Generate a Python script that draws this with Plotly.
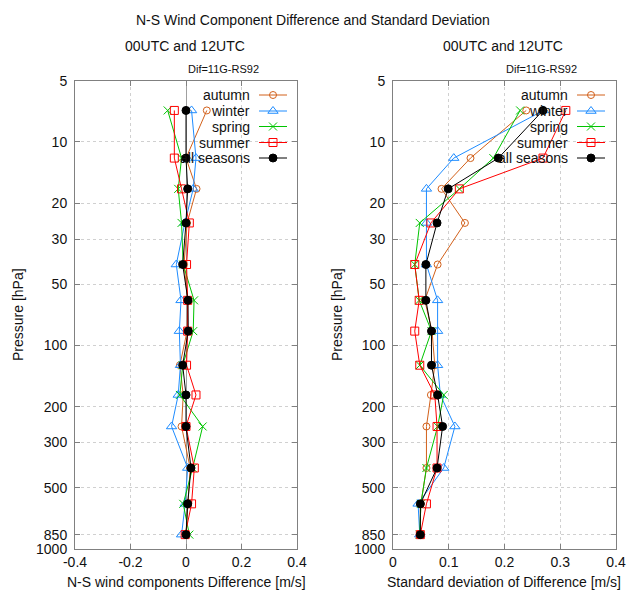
import plotly.graph_objects as go

# ---------------- data ----------------
levels = [7, 12, 17, 25, 40, 60, 85, 125, 175, 250, 400, 600, 850]
seasons = ["autumn", "winter", "spring", "summer", "all seasons"]

dif_autumn = [0.075, 0.0, 0.038, 0.004, -0.007, 0.006, 0.004, -0.022, -0.01, -0.016, 0.015, 0.008, 0.0]
dif_winter = [0.02, 0.036, 0.026, -0.004, -0.035, -0.018, -0.024, -0.02, -0.028, -0.052, 0.006, -0.003, -0.016]
dif_spring = [-0.066, -0.016, -0.028, -0.016, -0.01, 0.029, 0.026, -0.012, -0.022, 0.06, 0.024, -0.01, 0.012]
dif_summer = [-0.042, -0.042, -0.016, 0.012, 0.002, 0.006, 0.006, 0.002, 0.036, 0.0, 0.03, 0.02, -0.003]
dif_all = [0.0, 0.0, 0.006, 0.0, -0.012, 0.007, 0.008, -0.012, 0.0, 0.0, 0.018, 0.006, 0.0]

std_autumn = [0.239, 0.139, 0.087, 0.129, 0.08, 0.057, 0.07, 0.075, 0.068, 0.06, 0.06, 0.05, 0.048]
std_winter = [0.27, 0.109, 0.06, 0.06, 0.06, 0.08, 0.08, 0.08, 0.085, 0.111, 0.091, 0.045, 0.048]
std_spring = [0.228, 0.18, 0.119, 0.048, 0.039, 0.047, 0.069, 0.048, 0.091, 0.08, 0.06, 0.05, 0.048]
std_summer = [0.31, 0.269, 0.119, 0.068, 0.039, 0.047, 0.039, 0.048, 0.075, 0.079, 0.079, 0.06, 0.049]
std_all = [0.269, 0.189, 0.099, 0.079, 0.059, 0.059, 0.069, 0.069, 0.08, 0.089, 0.079, 0.049, 0.049]

p_ticks = [5, 10, 20, 30, 50, 100, 200, 300, 500, 850, 1000]
dif_ticks = [-0.4, -0.2, 0, 0.2, 0.4]
dif_ticktext = ["-0.4", "-0.2", "0", "0.2", "0.4"]
std_ticks = [0, 0.1, 0.2, 0.3, 0.4]
std_ticktext = ["0", "0.1", "0.2", "0.3", "0.4"]

# ---------------- styles ----------------
W, H = 627, 590
FONT = "Liberation Sans, Arial, sans-serif"
colors = ["#d2601a", "#1e8cff", "#00c400", "#ff0000", "#000000"]
symbols = ["circle-open", "triangle-up-open", "x-thin-open", "square-open", "circle"]
msizes = [7, 9, 8, 8, 8]

def px_x(v):
    return v / W

def px_y(v):
    return 1 - v / H

left_dom = [px_x(75), px_x(297)]
right_dom = [px_x(393), px_x(616)]
y_dom = [px_y(549), px_y(80.7)]

fig = go.Figure()

dif_series = [dif_autumn, dif_winter, dif_spring, dif_summer, dif_all]
std_series = [std_autumn, std_winter, std_spring, std_summer, std_all]

def marker(i):
    return dict(symbol=symbols[i], size=msizes[i], color=colors[i],
                line=dict(color=colors[i], width=1))

for i, name in enumerate(seasons):
    fig.add_trace(go.Scatter(x=dif_series[i], y=levels, mode="lines+markers", name=name,
                             line=dict(color=colors[i], width=1), marker=marker(i),
                             xaxis="x", yaxis="y", showlegend=False, cliponaxis=False))
for i, name in enumerate(seasons):
    fig.add_trace(go.Scatter(x=std_series[i], y=levels, mode="lines+markers", name=name,
                             line=dict(color=colors[i], width=1), marker=marker(i),
                             xaxis="x2", yaxis="y2", showlegend=False, cliponaxis=False))

# ------------- custom gnuplot-like keys (text left, sample right) -------------
annotations = []
key_rows = [95, 111, 126.5, 142.5, 158]
for text_end, line_x0, line_x1 in [(252, 259, 287), (570, 577, 605)]:
    for i, name in enumerate(seasons):
        yy = key_rows[i]
        annotations.append(dict(x=px_x(text_end), y=px_y(yy), xref="paper", yref="paper",
                                text=name, showarrow=False, xanchor="right", yanchor="middle",
                                font=dict(family=FONT, size=14, color="#111")))
        fig.add_trace(go.Scatter(x=[line_x0, line_x1], y=[yy, yy], mode="lines",
                                 line=dict(color=colors[i], width=1), xaxis="x3", yaxis="y3",
                                 showlegend=False, hoverinfo="skip"))
        fig.add_trace(go.Scatter(x=[(line_x0 + line_x1) / 2], y=[yy], mode="markers",
                                 marker=marker(i), xaxis="x3", yaxis="y3",
                                 showlegend=False, hoverinfo="skip"))

# ------------- texts -------------
def ann(x, y, text, size=14, angle=0):
    return dict(x=px_x(x), y=px_y(y), xref="paper", yref="paper", text=text, showarrow=False,
                xanchor="center", yanchor="middle", textangle=angle,
                font=dict(family=FONT, size=size, color="#111"))

annotations += [
    ann(313, 20, "N-S Wind Component Difference and Standard Deviation"),
    ann(185, 46, "00UTC and 12UTC"),
    ann(503, 46, "00UTC and 12UTC"),
    ann(223, 69, "Dif=11G-RS92", size=11),
    ann(541, 69, "Dif=11G-RS92", size=11),
    ann(18, 315, "Pressure [hPa]", angle=-90),
    ann(337, 315, "Pressure [hPa]", angle=-90),
    ann(186, 582, "N-S wind components Difference [m/s]"),
    ann(504, 582, "Standard deviation of Difference [m/s]"),
]

axis_common = dict(showline=True, linecolor="#808080", linewidth=1, mirror="ticks",
                   ticks="inside", ticklen=5, tickcolor="#808080",
                   showgrid=True, gridcolor="#d0d0d0", griddash="dot", gridwidth=1,
                   tickfont=dict(family=FONT, size=14, color="#111"), automargin=False)

yax = dict(axis_common, type="log", range=[3, 0.69897], tickvals=p_ticks,
           ticktext=[str(t) for t in p_ticks], domain=y_dom, ticklabelstandoff=4,
           zeroline=False)

fig.update_layout(
    width=W, height=H, autosize=False,
    margin=dict(l=0, r=0, t=0, b=0, pad=0, autoexpand=False),
    paper_bgcolor="white", plot_bgcolor="rgba(0,0,0,0)",
    xaxis=dict(axis_common, domain=left_dom, range=[-0.4, 0.4], tickvals=dif_ticks,
               ticktext=dif_ticktext, anchor="y", zeroline=True, zerolinecolor="#a0a0a0",
               zerolinewidth=1),
    yaxis=dict(yax, anchor="x"),
    xaxis2=dict(axis_common, domain=right_dom, range=[0, 0.4], tickvals=std_ticks,
                ticktext=std_ticktext, anchor="y2", zeroline=False),
    yaxis2=dict(yax, anchor="x2"),
    xaxis3=dict(domain=[0, 1], range=[0, W], visible=False, anchor="y3", fixedrange=True),
    yaxis3=dict(domain=[0, 1], range=[H, 0], visible=False, anchor="x3", fixedrange=True),
    annotations=annotations,
    showlegend=False,
)

fig.write_html("out.html", config={"displayModeBar": False},
               post_script="document.body.style.margin='0';document.body.style.overflow='hidden';")
